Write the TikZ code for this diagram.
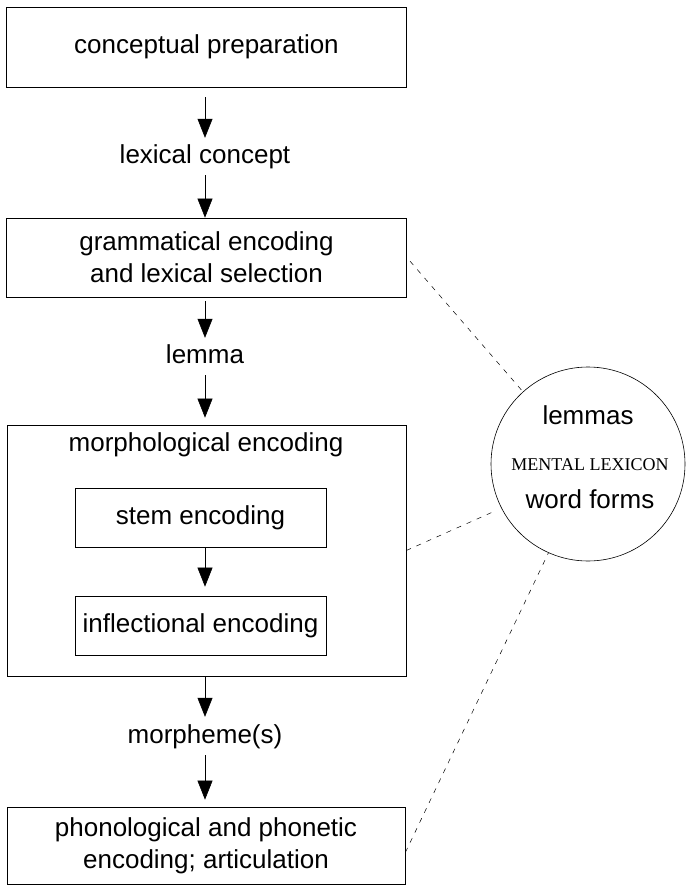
\documentclass[tikz,border=0pt]{standalone}
\usepackage{fontspec}
\setmainfont{Liberation Sans}
\newfontfamily\lexfont{Liberation Serif}
\usetikzlibrary{arrows.meta}

\begin{document}
\begin{tikzpicture}[x=1pt,y=-1pt,
  stagebox/.style={draw, line width=0.7pt, inner sep=0pt, align=center,
    font=\fontsize{26}{32}\selectfont},
  lbl/.style={inner sep=0pt, font=\fontsize{26}{32}\selectfont,
    text height=18.5pt, text depth=5.5pt},
  arr/.style={line width=0.6pt, -{Triangle[width=15pt,length=19pt]}},
  link/.style={line width=0.5pt, dash pattern=on 5pt off 6pt},
]
\useasboundingbox (0,0) rectangle (685,885);

% processing stages
\node[stagebox, minimum width=400pt, minimum height=80pt] (prep) at (206.5,47)
  {conceptual preparation};
\node[lbl] (lexcon) at (205,157) {lexical concept};
\node[stagebox, minimum width=400pt, minimum height=79pt] (gram) at (206.5,257.5)
  {grammatical encoding\\and lexical selection};
\node[lbl] (lemma) at (205,357) {lemma};
\node[stagebox, minimum width=399pt, minimum height=251pt] (morph) at (206.5,550.5) {};
\node[lbl] (morphtitle) at (206,445) {morphological encoding};
\node[stagebox, minimum width=251pt, minimum height=59pt] (stem) at (200.5,517.5)
  {stem encoding};
\node[stagebox, minimum width=251pt, minimum height=59pt] (infl) at (200.5,625.5)
  {inflectional encoding};
\node[lbl] (morpheme) at (205,737) {morpheme(s)};
\node[stagebox, minimum width=398pt, minimum height=77pt] (phon) at (206,845.5)
  {phonological and phonetic\\encoding; articulation};

% flow arrows
\draw[arr, shorten <=10pt, shorten >=7pt] (prep.south -| lexcon) -- (lexcon.north);
\draw[arr, shorten <=6pt] (lexcon.south) -- (lexcon.south |- gram.north);
\draw[arr, shorten <=4pt, shorten >=7pt] (gram.south -| lemma) -- (lemma.north);
\draw[arr, shorten <=6pt, shorten >=7pt] (lemma.south) -- (lemma.south |- morph.north);
\draw[arr, shorten >=9pt] (stem.south -| lemma) -- (infl.north -| lemma);
\draw[arr, shorten >=8pt] (morph.south -| morpheme) -- (morpheme.north);
\draw[arr, shorten <=6pt, shorten >=7pt] (morpheme.south) -- (morpheme.south |- phon.north);

% mental lexicon
\node[draw, circle, line width=0.6pt, minimum size=194pt, inner sep=0pt] (lex) at (588,464) {};
\node[lbl] (lemmas) at (588,418) {lemmas};
\node[inner sep=0pt, font=\lexfont\fontsize{18}{20}\selectfont] (mlex) at (590,465) {MENTAL LEXICON};
\node[lbl] (wforms) at (590,502) {word forms};

% links between stages and the lexicon
\draw[link, shorten <=5pt] (gram.east) -- (lex.132);
\draw[link, shorten >=6pt] (morph.east) -- (lex.207);
\draw[link] ([yshift=-7pt]phon.east) -- (lex.246);
\end{tikzpicture}
\end{document}
